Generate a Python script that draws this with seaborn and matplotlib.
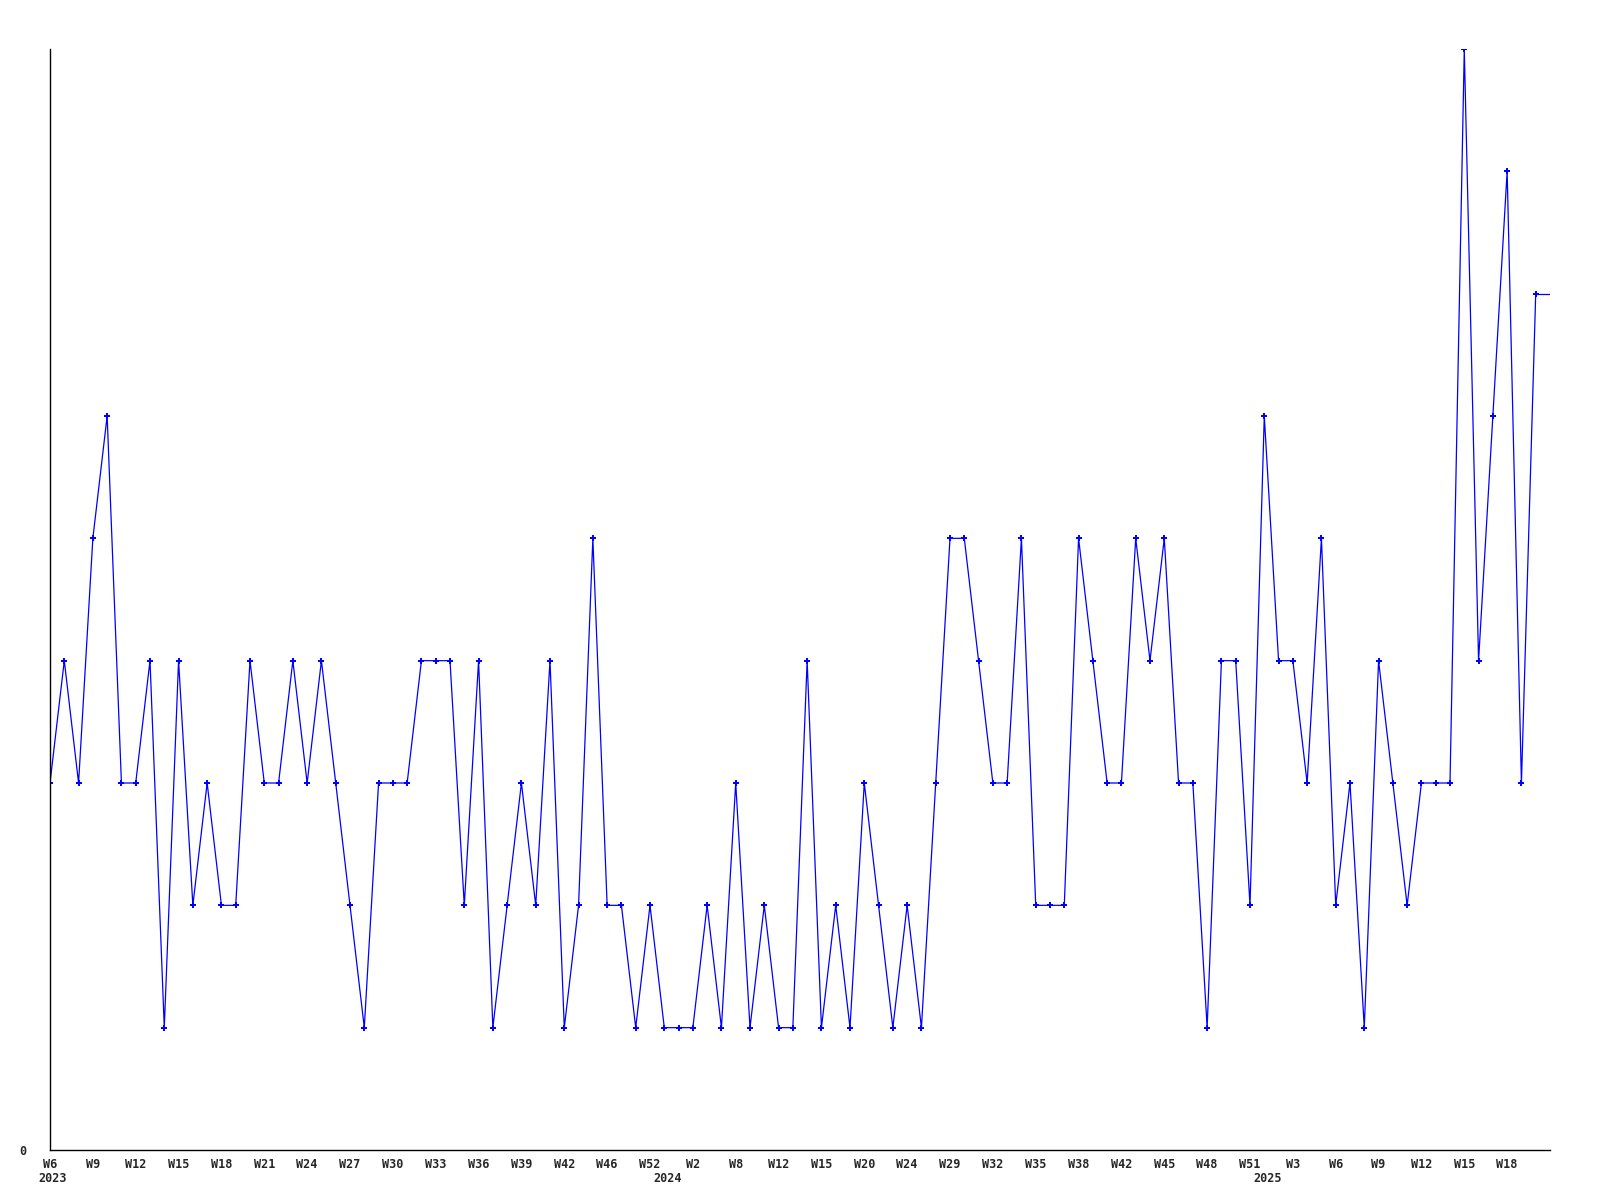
import pandas as pd
import seaborn as sns
import matplotlib.pyplot as plt

# weekly counts, one value per data point (irregular weeks)
values = [3, 4, 3, 5, 6, 3, 3, 4, 1, 4,
          2, 3, 2, 2, 4, 3, 3, 4, 3, 4,
          3, 2, 1, 3, 3, 3, 4, 4, 4, 2,
          4, 1, 2, 3, 2, 4, 1, 2, 5, 2,
          2, 1, 2, 1, 1, 1, 2, 1, 3, 1,
          2, 1, 1, 4, 1, 2, 1, 3, 2, 1,
          2, 1, 3, 5, 5, 4, 3, 3, 5, 2,
          2, 2, 5, 4, 3, 3, 5, 4, 5, 3,
          3, 1, 4, 4, 2, 6, 4, 4, 3, 5,
          2, 3, 1, 4, 3, 2, 3, 3, 3, 9,
          4, 6, 8, 3, 7]

# labels shown on every third point
week_labels = ["W6", "W9", "W12", "W15", "W18", "W21", "W24", "W27", "W30",
               "W33", "W36", "W39", "W42", "W46", "W52", "W2", "W8", "W12",
               "W15", "W20", "W24", "W29", "W32", "W35", "W38", "W42", "W45",
               "W48", "W51", "W3", "W6", "W9", "W12", "W15", "W18"]
years = ["2023", "2024", "2025"]
year_start_idx = [0, 43, 85]

df = pd.DataFrame({"idx": range(len(values)), "count": values})

sns.set_style("white")
fig = plt.figure(figsize=(16, 12), dpi=100)
ax = fig.add_axes([50 / 1600, 1 - 1150 / 1200, 1500 / 1600, 1101 / 1200])

blue = "#0000ff"
sns.lineplot(data=df, x="idx", y="count", ax=ax, color=blue, linewidth=0.9,
             marker="P", markersize=4.5, markeredgewidth=0, markerfacecolor=blue)
# the series runs on flat to the right edge
xmax = len(values)
ax.plot([df["idx"].iloc[-1], xmax], [values[-1], values[-1]], color=blue, linewidth=0.9)

ax.set_xlim(0, xmax)
ax.set_ylim(0, 9)
ax.set_xlabel("")
ax.set_ylabel("")

mono = {"family": "DejaVu Sans Mono", "weight": "bold", "size": 8.5}
ax.set_xticks(range(0, 3 * len(week_labels), 3))
ax.set_xticklabels(week_labels, fontdict=mono)
ax.set_yticks([0])
ax.set_yticklabels(["0"], fontdict=mono)
ax.tick_params(axis="x", length=0, pad=6)
ax.tick_params(axis="y", length=0, pad=17)

# year row under the week labels
for yr, i in zip(years, year_start_idx):
    ax.annotate(yr, xy=(i, 0), xycoords=("data", "axes fraction"),
                xytext=(3, -22), textcoords="offset pixels",
                ha="center", va="top", **mono)

for side in ["top", "right"]:
    ax.spines[side].set_visible(False)
for side in ["left", "bottom"]:
    ax.spines[side].set_color("black")
    ax.spines[side].set_linewidth(1)

fig.savefig("out.png", dpi=100, facecolor="white")
